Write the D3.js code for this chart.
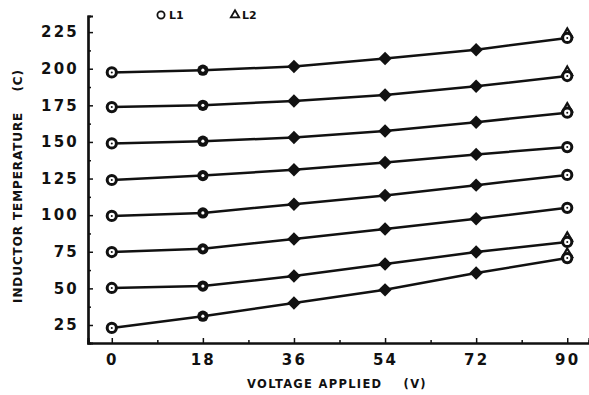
<!DOCTYPE html>
<html>
<head>
<meta charset="utf-8">
<script src="https://cdn.jsdelivr.net/npm/d3@7"></script>
<style>
  body { margin: 0; background: #fff; }
  text { font-family: "DejaVu Sans", sans-serif; font-weight: bold; fill: #111; }
</style>
</head>
<body>
<svg id="chart" width="589" height="395"></svg>
<script>
// voltage applied (V)
const voltages = [0, 18, 36, 54, 72, 90];
const yTicks = [25, 50, 75, 100, 125, 150, 175, 200, 225];

// inductor temperature (C), one run per row, top to bottom
const run1 = [197.5, 199, 201.5, 207, 213, 221];
const run2 = [173.8, 175, 178, 182, 188, 195];
const run3 = [149, 150.5, 153, 157.5, 163.5, 170];
const run4 = [124, 127, 131, 136, 141.5, 146.5];
const run5 = [99.5, 101.5, 107.5, 113.5, 120.5, 127.5];
const run6 = [74.8, 77, 83.7, 90.5, 97.5, 105];
const run7 = [50.3, 51.6, 58.4, 66.6, 74.8, 81.7];
const run8 = [23, 31, 40, 49, 60.5, 70.7];
const runs = [run1, run2, run3, run4, run5, run6, run7, run8];

// rows where the L2 triangle shows above the L1 circle at 90 V
const l2Top = [1, 1, 1, 0, 0, 0, 1, 1];

const svg = d3.select('#chart');
const margin = {top: 16, right: 0, bottom: 52, left: 88};
const width = 589 - margin.left - margin.right;
const height = 395 - margin.top - margin.bottom;

const x = d3.scaleLinear().domain([-4.7, 94.3]).range([0, width]);
const y = d3.scaleLinear().domain([12.7, 236]).range([height, 0]);

const g = svg.append('g').attr('transform', `translate(${margin.left},${margin.top})`);

// axes, ticks pointing inwards
const yAxis = g.append('g')
  .call(d3.axisLeft(y).tickValues(yTicks).tickSize(-5).tickPadding(9));
g.append('g')
  .call(d3.axisLeft(y).tickValues(d3.range(37.5, 236, 25)).tickSize(-3).tickFormat(''));
const xAxis = g.append('g')
  .attr('transform', `translate(0,${height})`)
  .call(d3.axisBottom(x).tickValues(voltages).tickSize(-5).tickPadding(11));
g.append('g')
  .attr('transform', `translate(0,${height})`)
  .call(d3.axisBottom(x).tickValues(d3.range(9, 95, 18)).tickSize(-3).tickFormat(''));

g.selectAll('.domain').attr('stroke', '#111').attr('stroke-width', 2.2);
g.selectAll('.tick line').attr('stroke', '#111').attr('stroke-width', 1.5);
[yAxis, xAxis].forEach(a => a.selectAll('text')
  .attr('font-family', null)
  .style('font-size', '15px')
  .style('letter-spacing', '2.2px')
  .style('font-family', '"DejaVu Sans", sans-serif')
  .style('font-weight', 'bold'));

const line = d3.line()
  .x((d, i) => x(voltages[i]))
  .y(d => y(d));

runs.forEach((run, r) => {
  g.append('path')
    .datum(run)
    .attr('fill', 'none')
    .attr('stroke', '#111')
    .attr('stroke-width', 2.5)
    .attr('d', line);

  run.forEach((v, i) => {
    const cx = x(voltages[i]), cy = y(v);
    if (i === 0 || i === 5) {
      if (i === 5 && l2Top[r]) {
        g.append('path')
          .attr('d', d3.symbol(d3.symbolTriangle, 40)())
          .attr('transform', `translate(${cx},${cy - 4})`)
          .attr('fill', '#fff').attr('stroke', '#111').attr('stroke-width', 2.2);
      }
      g.append('circle').attr('cx', cx).attr('cy', cy).attr('r', 4.6)
        .attr('fill', '#fff').attr('stroke', '#111').attr('stroke-width', 3);
      g.append('circle').attr('cx', cx).attr('cy', cy).attr('r', 1)
        .attr('fill', '#111');
    } else if (i === 1) {
      g.append('circle').attr('cx', cx).attr('cy', cy).attr('r', 5.6)
        .attr('fill', '#111');
      g.append('circle').attr('cx', cx).attr('cy', cy).attr('r', 1.6)
        .attr('fill', '#fff');
    } else {
      g.append('path')
        .attr('d', d3.symbol(d3.symbolSquare, 90)())
        .attr('transform', `translate(${cx},${cy}) rotate(45)`)
        .attr('fill', '#111');
    }
  });
});

// axis titles
svg.append('text')
  .attr('x', 337).attr('y', 388)
  .attr('text-anchor', 'middle')
  .style('font-size', '11.5px')
  .style('letter-spacing', '1.3px')
  .attr('xml:space', 'preserve')
  .text('VOLTAGE APPLIED    (V)');

svg.append('text')
  .attr('transform', 'translate(22,186) rotate(-90)')
  .attr('text-anchor', 'middle')
  .style('font-size', '12px')
  .style('letter-spacing', '0.9px')
  .attr('xml:space', 'preserve')
  .text('INDUCTOR TEMPERATURE    (C)');

// legend
const legend = svg.append('g').style('font-size', '11px').style('font-weight', 'normal');
legend.append('circle').attr('cx', 161).attr('cy', 15).attr('r', 3.6)
  .attr('fill', 'none').attr('stroke', '#111').attr('stroke-width', 1.8);
legend.append('text').attr('x', 169).attr('y', 19).text('L1');
legend.append('path')
  .attr('d', d3.symbol(d3.symbolTriangle, 30)())
  .attr('transform', 'translate(235,15)')
  .attr('fill', 'none').attr('stroke', '#111').attr('stroke-width', 1.8);
legend.append('text').attr('x', 242).attr('y', 19).text('L2');
</script>
</body>
</html>
